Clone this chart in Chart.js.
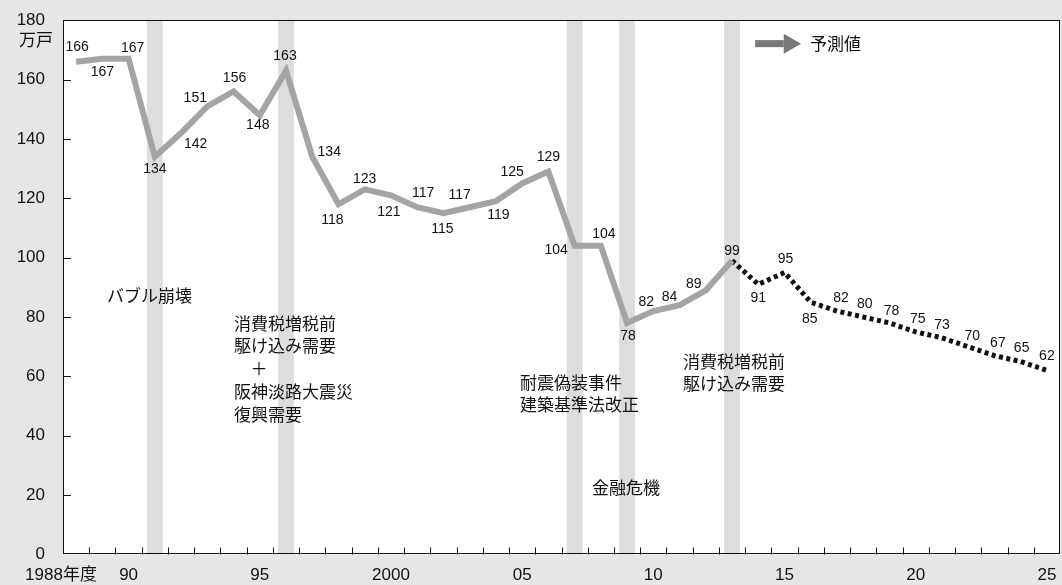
<!DOCTYPE html>
<html lang="ja">
<head>
<meta charset="utf-8">
<title>新設住宅着工戸数の推移</title>
<script src="https://cdn.jsdelivr.net/npm/chart.js@4.4.1/dist/chart.umd.min.js"></script>
<style>
  html, body { margin: 0; padding: 0; background: #e6e6e6; }
  #wrap { width: 1062px; height: 585px; }
</style>
</head>
<body>
<div id="wrap"><canvas id="grafico"></canvas></div>
<script>
// 実績（年度）
var actualYears = [1988, 1989, 1990, 1991, 1992, 1993, 1994, 1995, 1996, 1997, 1998, 1999, 2000,
  2001, 2002, 2003, 2004, 2005, 2006, 2007, 2008, 2009, 2010, 2011, 2012, 2013];
var actualValues = [166, 167, 167, 134, 142, 151, 156, 148, 163, 134, 118, 123, 121,
  117, 115, 117, 119, 125, 129, 104, 104, 78, 82, 84, 89, 99];

// 予測値（2013年度から点線でつなぐ）
var forecastYears = [2013, 2014, 2015, 2016, 2017, 2018, 2019, 2020, 2021, 2022, 2023, 2024, 2025];
var forecastValues = [99, 91, 95, 85, 82, 80, 78, 75, 73, 70, 67, 65, 62];

// 横軸の目盛り
var tickYears = [1988, 1990, 1995, 2000, 2005, 2010, 2015, 2020, 2025];
var tickLabels = ['1988年度', '90', '95', '2000', '05', '10', '15', '20', '25'];

// 出来事の帯（年度）
var eventYears = [1991, 1996, 2007, 2009, 2013];

// 数値ラベルのずらし（点からのpx）
var actualLabelShift = [[1, -14.5], [0, 13], [4, -10.5], [0, 12], [14.5, 11], [-12, -8.5], [1, -13.5],
  [-2, 9.5], [-1, -15], [17, -4.5], [-6, 15.5], [0, -10.5], [-2, 17], [6, -14], [-1, 15.5], [-10, -12],
  [2.5, 14], [-10, -11.5], [0, -14], [-18.5, 4], [3, -11.5], [1, 13.5], [-7, -9], [-10, -8], [-12, -6], [0, -9.5]];
var forecastLabelShift = [null, [0, 14], [1, -13], [-1, 16.5], [4, -13], [1.5, -12.5], [2, -12],
  [2, -13], [0, -12.5], [4, -10.5], [3.5, -12.5], [1, -13], [0, -14.5]];

// 注記（年度, 値, 行）
var notes = [
  { x: 1989.18, y: 87.3, lines: ['バブル崩壊'] },
  { x: 1994.02, y: 77.9, lines: ['消費税増税前', '駆け込み需要', '', '阪神淡路大震災', '復興需要'] },
  { x: 2004.92, y: 58.0, lines: ['耐震偽装事件', '建築基準法改正'] },
  { x: 2007.66, y: 22.7, lines: ['金融危機'] },
  { x: 2011.13, y: 65.1, lines: ['消費税増税前', '駆け込み需要'] }
];

var numFont = "'Liberation Sans', Arial, sans-serif";
var jpFont = "'Noto Sans CJK JP', 'Noto Sans', sans-serif";

function toPoints(xs, ys) {
  var pts = [];
  for (var i = 0; i < xs.length; i++) {
    pts.push({ x: xs[i], y: ys[i] });
  }
  return pts;
}

var desenhoExtra = {
  id: 'desenhoExtra',
  beforeDraw: function (chart) {
    var ctx = chart.ctx;
    var a = chart.chartArea;
    ctx.save();
    ctx.fillStyle = '#e6e6e6';
    ctx.fillRect(0, 0, chart.width, chart.height);
    ctx.fillStyle = '#ffffff';
    ctx.fillRect(a.left, a.top, a.right - a.left, a.bottom - a.top);
    ctx.restore();
  },
  beforeDatasetsDraw: function (chart) {
    var ctx = chart.ctx;
    var a = chart.chartArea;
    var xs = chart.scales.x;
    ctx.save();
    ctx.fillStyle = '#dcdddd';
    for (var i = 0; i < eventYears.length; i++) {
      var l = xs.getPixelForValue(eventYears[i] - 0.3);
      var r = xs.getPixelForValue(eventYears[i] + 0.3);
      ctx.fillRect(l, a.top, r - l, a.bottom - a.top);
    }
    ctx.restore();
  },
  afterDatasetsDraw: function (chart) {
    var ctx = chart.ctx;
    var a = chart.chartArea;
    var xs = chart.scales.x;
    var ys = chart.scales.y;
    var i, px, py;
    ctx.save();

    // 枠線
    ctx.strokeStyle = '#111';
    ctx.lineWidth = 1;
    ctx.strokeRect(Math.round(a.left) + 0.5, Math.round(a.top) + 0.5,
      Math.round(a.right - a.left) - 1, Math.round(a.bottom - a.top) - 1);

    // 内向きの目盛り線
    ctx.beginPath();
    for (var yr = 1988.5; yr < 2025.5; yr++) {
      px = Math.round(xs.getPixelForValue(yr)) + 0.5;
      ctx.moveTo(px, a.bottom);
      ctx.lineTo(px, a.bottom - 7);
    }
    for (var v = 20; v < 180; v += 20) {
      py = Math.round(ys.getPixelForValue(v)) + 0.5;
      ctx.moveTo(a.left, py);
      ctx.lineTo(a.left + 8, py);
    }
    ctx.stroke();

    // 数値ラベル
    ctx.fillStyle = '#111';
    ctx.font = '14px ' + numFont;
    ctx.textAlign = 'center';
    ctx.textBaseline = 'middle';
    for (i = 0; i < actualValues.length; i++) {
      px = xs.getPixelForValue(actualYears[i]);
      py = ys.getPixelForValue(actualValues[i]);
      ctx.fillText(String(actualValues[i]), px + actualLabelShift[i][0], py + actualLabelShift[i][1]);
    }
    for (i = 0; i < forecastValues.length; i++) {
      if (!forecastLabelShift[i]) continue;
      px = xs.getPixelForValue(forecastYears[i]);
      py = ys.getPixelForValue(forecastValues[i]);
      ctx.fillText(String(forecastValues[i]), px + forecastLabelShift[i][0], py + forecastLabelShift[i][1]);
    }

    // 横軸ラベル
    ctx.font = '17px ' + numFont;
    for (i = 0; i < tickYears.length; i++) {
      px = xs.getPixelForValue(tickYears[i]);
      if (i == 0) {
        ctx.textAlign = 'left';
        ctx.font = '17px ' + numFont + ', ' + jpFont;
        ctx.fillText(tickLabels[i], px - 51, a.bottom + 21);
        ctx.textAlign = 'center';
        ctx.font = '17px ' + numFont;
      } else {
        ctx.fillText(tickLabels[i], px, a.bottom + 21);
      }
    }

    // 単位
    ctx.font = '17px ' + jpFont;
    ctx.textAlign = 'right';
    ctx.fillText('万戸', a.left - 10, ys.getPixelForValue(180) + 19);

    // 注記
    ctx.font = '17px ' + jpFont;
    ctx.textAlign = 'left';
    for (i = 0; i < notes.length; i++) {
      px = xs.getPixelForValue(notes[i].x);
      py = ys.getPixelForValue(notes[i].y);
      for (var k = 0; k < notes[i].lines.length; k++) {
        ctx.fillText(notes[i].lines[k], px, py + k * 22.7);
      }
    }
    // 「＋」
    ctx.textAlign = 'center';
    ctx.fillText('＋', xs.getPixelForValue(1994.97), ys.getPixelForValue(77.9) + 2 * 22.7);

    // 予測値の凡例（矢印）
    var ax = xs.getPixelForValue(2013.88);
    var ay = ys.getPixelForValue(172.1);
    var ah = xs.getPixelForValue(2014.97);
    var ae = xs.getPixelForValue(2015.63);
    ctx.fillStyle = '#777';
    ctx.fillRect(ax, ay - 3.5, ah - ax, 7);
    ctx.beginPath();
    ctx.moveTo(ah, ay - 10);
    ctx.lineTo(ae, ay);
    ctx.lineTo(ah, ay + 10);
    ctx.closePath();
    ctx.fill();
    ctx.fillStyle = '#111';
    ctx.textAlign = 'left';
    ctx.font = '17px ' + jpFont;
    ctx.fillText('予測値', xs.getPixelForValue(2015.97), ay);

    ctx.restore();
  }
};

var dados = {
  datasets: [
    {
      label: '実績',
      data: toPoints(actualYears, actualValues),
      borderColor: '#a4a4a4',
      borderWidth: 6,
      borderJoinStyle: 'miter',
      pointRadius: 0,
      tension: 0
    },
    {
      label: '予測値',
      data: toPoints(forecastYears, forecastValues),
      borderColor: '#111',
      borderWidth: 5,
      borderDash: [4, 3.5],
      borderCapStyle: 'butt',
      pointRadius: 0,
      tension: 0
    }
  ]
};

var config = {
  type: 'line',
  data: dados,
  options: {
    responsive: true,
    maintainAspectRatio: false,
    animation: false,
    layout: { padding: { top: 19.5, right: 2, bottom: 0.5, left: 0 } },
    plugins: { legend: { display: false }, tooltip: { enabled: false } },
    scales: {
      x: {
        type: 'linear',
        min: 1987.5,
        max: 2025.5,
        grid: { display: false },
        border: { display: false },
        ticks: { display: false },
        afterFit: function (scale) { scale.height = 30; }
      },
      y: {
        min: 0,
        max: 180,
        grid: { display: false },
        border: { display: false },
        ticks: {
          stepSize: 20,
          padding: 10,
          color: '#111',
          font: { family: numFont, size: 17 }
        },
        afterFit: function (scale) { scale.width = 63; }
      }
    }
  },
  plugins: [desenhoExtra]
};

var myChart = new Chart(document.getElementById('grafico'), config);
</script>
</body>
</html>
